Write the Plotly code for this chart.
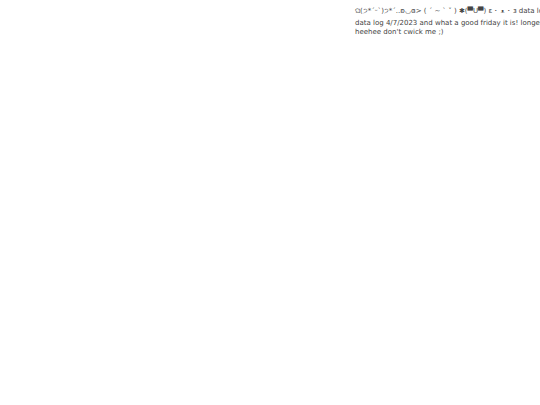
import plotly.graph_objects as go

# text shown on the (otherwise empty) chart
header = "ଘ(੭*ˊᵕˋ)੭*ˊ..ʚ◡ɞ> ( ˊ ~ ˋ ˇ ) ✱(▀̿U▀̿) ε ･ ᴥ ･ з data log"
log_lines = [
    "data log 4/7/2023 and what a good friday it is! longest day ever",
    "heehee don't cwick me ;)",
]

W, H = 540, 405
txt_font = dict(family="DejaVu Sans", size=7, color="#444")

fig = go.Figure()

fig.add_annotation(
    text=header, xref="paper", yref="paper",
    x=353/W, y=1 - 4/H, xanchor="left", yanchor="top",
    showarrow=False, align="left", font=txt_font)
fig.add_annotation(
    text="<br>".join(log_lines), xref="paper", yref="paper",
    x=353/W, y=1 - 17/H, xanchor="left", yanchor="top",
    showarrow=False, align="left", font=txt_font)

fig.update_layout(
    width=W, height=H,
    margin=dict(l=0, r=0, t=0, b=0),
    xaxis=dict(visible=False),
    yaxis=dict(visible=False),
    plot_bgcolor="white", paper_bgcolor="white",
    showlegend=False)

# page body has a default 8px margin; drop it so the figure fills the window
fig.write_html("out.html", config={"displayModeBar": False},
               post_script="document.body.style.margin = '0';")
